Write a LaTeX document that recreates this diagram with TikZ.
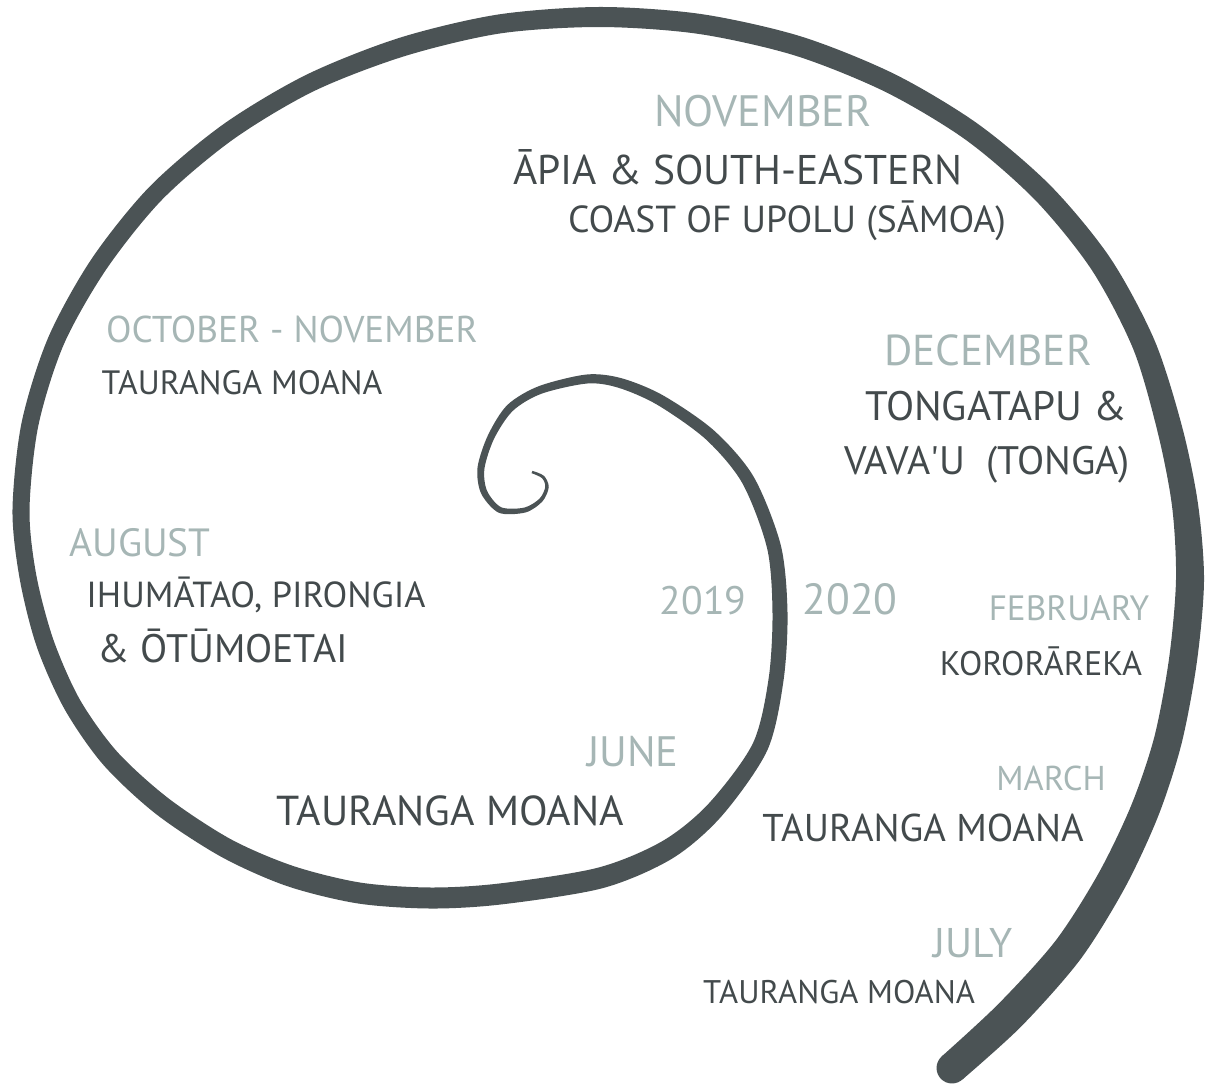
\documentclass[tikz,border=0pt]{standalone}
\usepackage{fontspec}
\setmainfont{PT Sans}
\usetikzlibrary{calc}
\definecolor{korucol}{HTML}{4B5355}
\definecolor{sitecol}{HTML}{434A4C}
\definecolor{monthcol}{HTML}{A6B6B5}
\tikzset{
  monthlbl/.style={text=monthcol, anchor=base, inner sep=0pt, font=\fontsize{#1pt}{#1pt}\selectfont},
  monthlbl/.default=11,
  sitelbl/.style={text=sitecol, anchor=base, inner sep=0pt, font=\fontsize{#1pt}{#1pt}\selectfont},
  sitelbl/.default=11,
}
% centre line of the koru, tail to curl: x/y/width (px)
\def\korupts{952/1068/31, 1010/1015/32, 1068/950/31, 1112/880/30, 1145/810/29,
  1168/740/28, 1183/660/28, 1190/580/28, 1185/505/26, 1170/430/25,
  1144/345/23, 1101/264/22, 1043/193/21, 972/132/20, 890/83/20,
  798/46/20, 700/24/20, 600/17/20, 499/24/19, 402/47/19,
  310/83/18, 228/132/18, 156/193/18, 99/264/18, 56/341/17,
  30/424/17, 21/510/17, 28/577/17, 45/643/18, 72/704/18,
  110/758/19, 162/806/20, 226/848/20, 290/876/21, 359/893/21,
  430/898/21, 500/894/21, 600/878/21, 667/850/20, 715/810/18,
  760/747/16, 776/680/15, 780/613/15, 774/547/14, 748/480/13,
  710/435/12, 660/400/11, 620/383/10, 587/379/9, 540/390/8,
  510/408/8, 491/437/7, 481/468/7, 484/492/6.5, 500/510/6,
  525/510/5, 541/500/4, 547/487/3.5, 543/477/3, 532/472/2.5}
\def\nkoru{60}

\begin{document}
\begin{tikzpicture}[x=0.01cm,y=-0.01cm]
\useasboundingbox (0,0) rectangle (1218,1085);
% koru: centre line
\foreach \px/\py/\w [count=\i] in \korupts {
  \coordinate (k\i) at (\px,\py);
}
% koru: both edges of the stroke
\gdef\leftside{}
\gdef\rightside{}
\foreach \px/\py/\w [count=\i] in \korupts {
  \pgfmathtruncatemacro\prv{max(\i-1,1)}
  \pgfmathtruncatemacro\nxt{min(\i+1,\nkoru)}
  \pgfmathsetmacro\hw{0.1423*\w}
  \coordinate (l\i) at ($(k\i)+($(k\prv)!\hw pt!90:(k\nxt)$)-(k\prv)$);
  \coordinate (r\i) at ($(k\i)+($(k\prv)!\hw pt!-90:(k\nxt)$)-(k\prv)$);
  \xdef\leftside{\leftside (l\i)}
  \xdef\rightside{(r\i) \rightside}
}
\edef\korupath{\noexpand\fill[korucol] plot[smooth] coordinates {\leftside}
  -- plot[smooth] coordinates {\rightside} -- cycle;}
\korupath
\fill[korucol] (k1) circle[radius=4.4pt];
% 2019
\node[monthlbl=11.2] (aug) at (140,556) {AUGUST};
\node[sitelbl=10.3] (ihu) at (256,607) {IHUMĀTAO, PIRONGIA};
\node[sitelbl=11.3] (otu) at (223,662) {\& ŌTŪMOETAI};
\node[monthlbl=10.6] (octnov) at (292,342) {OCTOBER - NOVEMBER};
\node[sitelbl=9.6] (tauoct) at (242,394) {TAURANGA MOANA};
\node[monthlbl=12.5] (nov) at (763,127) {NOVEMBER};
\node[sitelbl=11.8] (apia) at (738,185) {ĀPIA \& SOUTH-EASTERN};
\node[sitelbl=10.7] (upolu) at (787,233) {COAST OF UPOLU (SĀMOA)};
\node[monthlbl=12.3] (dec) at (988,365) {DECEMBER};
\node[sitelbl=11.7] (tonga) at (996,420) {TONGATAPU \&};
\node[sitelbl=11.3] (vavau) at (987,474) {VAVA\textquotesingle U\ \ (TONGA)};
\node[monthlbl=12.1] (jun) at (633,766) {JUNE};
\node[sitelbl=11.9] (taujun) at (450,825) {TAURANGA MOANA};
% 2020
\node[monthlbl=11.3] (yra) at (703,614) {2019};
\node[monthlbl=12.4] (yrb) at (850,614) {2020};
\node[monthlbl=10] (feb) at (1069,620) {FEBRUARY};
\node[sitelbl=9.7] (koro) at (1041,675) {KORORĀREKA};
\node[monthlbl=9.8] (mar) at (1051,790) {MARCH};
\node[sitelbl=11] (taumar) at (923,841) {TAURANGA MOANA};
\node[monthlbl=11.8] (jul) at (973,957) {JULY};
\node[sitelbl=9.3] (taujul) at (839,1003) {TAURANGA MOANA};
\end{tikzpicture}
\end{document}
